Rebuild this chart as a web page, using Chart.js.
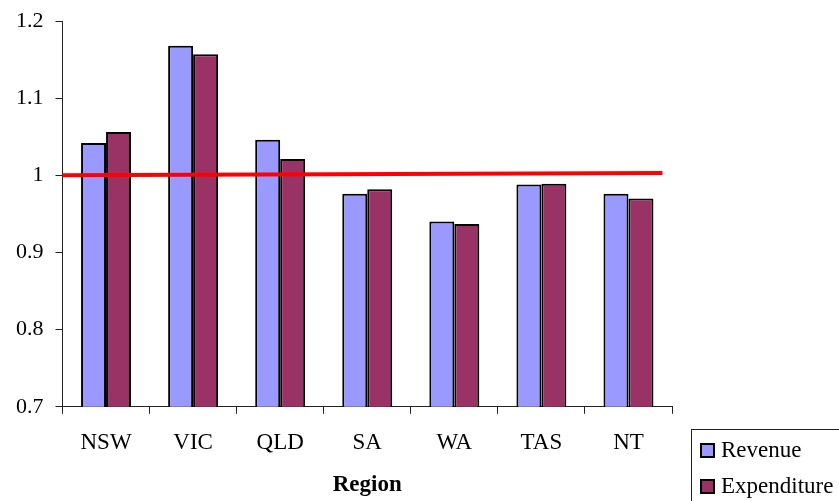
<!DOCTYPE html>
<html>
<head>
<meta charset="utf-8">
<script src="https://cdn.jsdelivr.net/npm/chart.js@4/dist/chart.umd.min.js"></script>
<style>
  html, body { margin: 0; padding: 0; background: #fff; }
  #wrap { position: relative; width: 839px; height: 501px; overflow: hidden; }
  #legend { position: absolute; left: 691px; top: 429px; width: 170px; height: 90px;
    border: 1px solid #222; box-sizing: border-box; font-family: "Liberation Serif", "Times New Roman", serif;
    font-size: 23px; color: #000; }
  .item { position: absolute; left: 8px; display: flex; align-items: center; height: 26px; white-space: nowrap; }
  .sw { width: 11px; height: 11px; border: 2px solid #000; margin-right: 6px; box-sizing: content-box; }
</style>
</head>
<body>
<div id="wrap">
<canvas id="c" width="839" height="501"></canvas>
<div id="legend"></div>
</div>
<script>
const categories = ["NSW", "VIC", "QLD", "SA", "WA", "TAS", "NT"];
const revenue = [1.042, 1.168, 1.046, 0.976, 0.940, 0.988, 0.976];
const expenditure = [1.056, 1.157, 1.021, 0.982, 0.937, 0.989, 0.970];
// reference line: x in category-index units, y in value units
const refLineX = [-0.5, 6.39];
const refLineY = [1.000, 1.003];
const yTicks = [0.7, 0.8, 0.9, 1.0, 1.1, 1.2];
const yTickLabels = ["0.7", "0.8", "0.9", "1", "1.1", "1.2"];
const seriesNames = ["Revenue", "Expenditure"];
const colors = ["#9999FF", "#993366"];

const fam = "'Liberation Serif', 'Times New Roman', serif";

const refLinePlugin = {
  id: 'refLine',
  afterDatasetsDraw(chart) {
    const { ctx, scales } = chart;
    ctx.save();
    ctx.strokeStyle = '#FF0000';
    ctx.lineWidth = 4;
    ctx.beginPath();
    refLineX.forEach((xv, i) => {
      const px = scales.x.getPixelForValue(xv);
      const py = scales.y.getPixelForValue(refLineY[i]);
      if (i === 0) ctx.moveTo(px, py); else ctx.lineTo(px, py);
    });
    ctx.stroke();
    ctx.restore();
  }
};

new Chart(document.getElementById('c'), {
  type: 'bar',
  data: {
    labels: categories,
    datasets: [
      { label: seriesNames[0], data: revenue, backgroundColor: colors[0], borderColor: '#000', borderWidth: 2,
        borderSkipped: false, categoryPercentage: 0.574, barPercentage: 1.0 },
      { label: seriesNames[1], data: expenditure, backgroundColor: colors[1], borderColor: '#000', borderWidth: 2,
        borderSkipped: false, categoryPercentage: 0.574, barPercentage: 1.0 }
    ]
  },
  plugins: [refLinePlugin],
  options: {
    responsive: false,
    animation: false,
    layout: { padding: { left: 4, right: 167, top: 21, bottom: 0 } },
    plugins: { legend: { display: false }, tooltip: { enabled: false } },
    scales: {
      x: {
        grid: { display: true, drawOnChartArea: false, tickLength: 7, color: '#222', offset: true },
        border: { color: '#222', width: 1 },
        ticks: { color: '#000', font: { family: fam, size: 23 }, padding: 15 },
        title: { display: true, text: 'Region', color: '#000', font: { family: fam, size: 23, weight: 'bold' }, padding: { top: 0, bottom: 2 } }
      },
      y: {
        min: 0.7, max: 1.2,
        afterBuildTicks: (axis) => { axis.ticks = yTicks.map(v => ({ value: v })); },
        afterFit: (axis) => { axis.paddingTop = 0; axis.paddingBottom = 0; },
        grid: { display: true, drawOnChartArea: false, tickLength: 7, color: '#222' },
        border: { color: '#222', width: 1 },
        ticks: { color: '#000', font: { family: fam, size: 22 }, padding: 12,
          callback: (v) => { const i = yTicks.findIndex(t => Math.abs(t - v) < 1e-6); return i >= 0 ? yTickLabels[i] : ''; } }
      }
    }
  }
});

const lg = document.getElementById('legend');
const rowCenters = [20, 56];
seriesNames.forEach((n, i) => {
  const d = document.createElement('div'); d.className = 'item';
  d.style.top = (rowCenters[i] - 13) + 'px';
  const s = document.createElement('span'); s.className = 'sw'; s.style.background = colors[i];
  d.appendChild(s); d.appendChild(document.createTextNode(n)); lg.appendChild(d);
});
</script>
</body>
</html>
